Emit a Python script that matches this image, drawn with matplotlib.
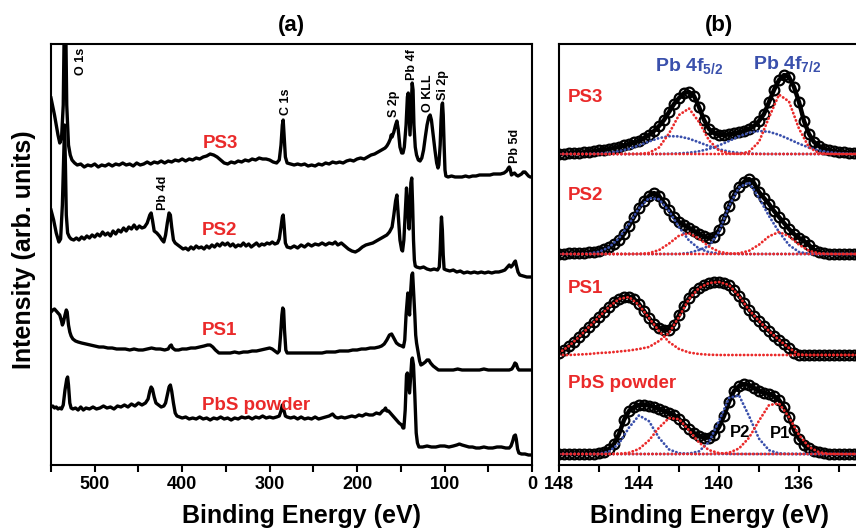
import numpy as np
import matplotlib.pyplot as plt

plt.rcParams['font.family'] = ['Liberation Sans', 'DejaVu Sans']
plt.rcParams['font.weight'] = 'bold'
plt.rcParams['mathtext.fontset'] = 'custom'
plt.rcParams['mathtext.rm'] = 'Liberation Sans:bold'
plt.rcParams['mathtext.it'] = 'Liberation Sans:bold'
plt.rcParams['mathtext.bf'] = 'Liberation Sans:bold'

RED = '#ea2a2a'
BLUE = '#3a50ac'

# ---------- (a) survey spectra: (binding energy eV, intensity arb.)
ps3 = np.array([
    (550, 367), (546, 350), (542, 330), (540, 322), (538, 326), (536, 360), (535, 430), (534, 480),
    (533, 430), (532, 360), (530, 320), (528, 310), (526, 305), (523, 302), (520, 300), (516, 301),
    (512, 298), (508, 300), (504, 299), (500, 301), (496, 298), (492, 300), (488, 299), (484, 301),
    (480, 299), (476, 301), (472, 300), (468, 302), (464, 300), (460, 301), (456, 299), (452, 302),
    (448, 300), (444, 301), (440, 303), (436, 301), (432, 303), (428, 302), (424, 304), (420, 302),
    (416, 304), (412, 303), (408, 305), (404, 304), (400, 306), (396, 304), (392, 306), (388, 305),
    (384, 307), (380, 306), (376, 308), (372, 309), (368, 311), (364, 310), (360, 308), (356, 305),
    (352, 302), (348, 301), (344, 303), (340, 302), (336, 304), (332, 303), (328, 305), (324, 304),
    (320, 306), (316, 305), (312, 307), (308, 306), (304, 306), (300, 305), (296, 303), (292, 302),
    (289, 305), (287, 320), (285.5, 340), (284.5, 345), (283.5, 330), (282, 308), (280, 302),
    (276, 301), (272, 300), (268, 301), (264, 300), (260, 301), (256, 299), (252, 300), (248, 299),
    (244, 301), (240, 300), (236, 302), (232, 301), (228, 303), (224, 302), (220, 303), (216, 302),
    (212, 304), (208, 305), (204, 304), (200, 306), (196, 307), (192, 306), (188, 308), (184, 310),
    (180, 311), (176, 313), (172, 315), (168, 317), (166, 319), (164, 322), (162, 326), (161, 330),
    (160, 328), (158, 333), (156, 340), (154.5, 344), (153, 336), (151, 318), (149, 312),
    (147.5, 312), (146, 318), (144, 340), (142.5, 368), (141.5, 372), (140.5, 350), (139.5, 330),
    (138, 360), (137, 382), (136, 375), (135, 340), (133.5, 318), (132, 310), (130, 305), (128, 304),
    (126, 307), (124, 315), (122, 328), (120, 340), (118, 348), (116.5, 350), (115, 345), (113, 330),
    (111, 315), (109, 302), (107.5, 297), (106.5, 300), (105, 320), (104, 345), (103, 360),
    (102.3, 362), (101.5, 350), (100.5, 320), (99.5, 295), (98.5, 289), (96, 288), (92, 289),
    (88, 288), (84, 288), (80, 288), (76, 289), (72, 288), (68, 289), (64, 289), (60, 290), (56, 290),
    (52, 290), (48, 290), (44, 291), (40, 291), (36, 291), (32, 292), (29, 294), (27, 297), (26, 298),
    (25, 296), (23.5, 290), (22, 291), (20, 292), (18, 290), (16, 289), (14, 290), (12, 291),
    (10, 293), (8, 293), (6, 291), (4, 289), (2, 288), (0, 288)])

ps2 = np.array([
    (550, 255), (547, 245), (544, 232), (541, 223), (539, 226), (537, 260), (535.5, 310), (534.5, 340),
    (533.5, 300), (532.5, 250), (531, 232), (529, 228), (527, 226), (524, 225), (521, 227), (518, 225),
    (515, 228), (512, 226), (509, 229), (506, 227), (503, 230), (500, 228), (497, 231), (494, 229),
    (491, 233), (488, 230), (485, 232), (482, 229), (479, 234), (476, 231), (473, 235), (470, 233),
    (467, 237), (464, 234), (461, 238), (458, 236), (455, 240), (452, 236), (449, 239), (446, 237),
    (443, 238), (440, 242), (437, 250), (435.5, 252), (434, 245), (432, 234), (429, 232), (426, 229),
    (423, 225), (421, 223), (419, 230), (417, 242), (415, 252), (413.5, 250), (412, 238), (410, 225),
    (408, 222), (405, 220), (402, 218), (399, 216), (396, 217), (393, 215), (390, 218), (387, 216),
    (384, 219), (381, 217), (378, 218), (375, 216), (372, 219), (369, 217), (366, 220), (363, 218),
    (360, 221), (357, 219), (354, 222), (351, 220), (348, 222), (345, 219), (342, 221), (339, 218),
    (336, 220), (333, 219), (330, 222), (327, 219), (324, 221), (321, 218), (318, 220), (315, 222),
    (312, 219), (309, 221), (306, 220), (303, 222), (300, 221), (297, 223), (294, 221), (291, 222),
    (289, 226), (287, 238), (285.5, 248), (284.5, 250), (283.5, 240), (282, 222), (280, 218),
    (276, 217), (272, 219), (268, 217), (264, 220), (260, 218), (256, 221), (252, 219), (248, 221),
    (244, 220), (240, 222), (236, 220), (232, 222), (228, 221), (225, 223), (222, 220), (218, 222),
    (214, 219), (210, 216), (206, 214), (202, 213), (198, 215), (194, 218), (190, 220), (186, 221),
    (182, 222), (178, 224), (174, 226), (170, 228), (166, 230), (163, 233), (160, 238), (158, 250),
    (156, 264), (154.5, 270), (153, 250), (151, 225), (149, 215), (148, 214), (146.5, 225), (145, 250),
    (143.5, 277), (142, 258), (141, 240), (140.5, 236), (139.5, 260), (138.5, 282), (137.5, 287),
    (136.5, 260), (135.5, 225), (134.5, 205), (133.5, 199), (132, 198), (128, 197), (124, 198),
    (120, 196), (116, 195), (112, 196), (108, 195), (106, 198), (105, 215), (104, 240), (103.5, 248),
    (102.5, 235), (101.5, 210), (100.5, 196), (98, 195), (94, 194), (90, 195), (86, 193), (82, 194),
    (78, 192), (74, 193), (70, 192), (66, 193), (62, 192), (58, 193), (54, 192), (50, 193), (46, 192),
    (42, 193), (38, 193), (34, 194), (31, 195), (28, 198), (26, 200), (24, 198), (22, 200), (20, 203),
    (19, 204), (18, 200), (16, 193), (14, 190), (10, 189), (6, 188), (2, 188), (0, 188)])

ps1 = np.array([
    (550, 153), (548, 155), (546, 156), (544, 154), (542, 152), (540, 150), (538, 144), (537, 140),
    (536, 142), (534, 150), (532.5, 155), (531.5, 153), (530, 140), (528.5, 133), (527, 129),
    (525, 126), (522, 124), (519, 123), (515, 122), (510, 121), (505, 120), (500, 119), (495, 118),
    (490, 118), (485, 117), (480, 117), (475, 116), (470, 116), (465, 116), (460, 115), (455, 116),
    (450, 115), (445, 115), (440, 116), (435, 117), (430, 116), (425, 116), (420, 115), (416, 116),
    (414, 119), (412.5, 120), (411, 117), (408, 115), (404, 115), (400, 116), (395, 116), (390, 117),
    (385, 117), (380, 118), (375, 119), (371, 120), (368, 120), (365, 118), (362, 115), (358, 112),
    (354, 112), (350, 112), (345, 112), (340, 113), (335, 112), (330, 113), (325, 113), (320, 114),
    (315, 114), (310, 115), (305, 116), (300, 117), (297, 116), (294, 114), (291, 112), (289, 114),
    (287.5, 130), (286, 150), (285, 157), (284, 155), (283, 135), (281.5, 115), (280, 112), (276, 112),
    (270, 112), (265, 112), (260, 112), (255, 112), (250, 112), (245, 112), (240, 112), (235, 113),
    (230, 113), (225, 113), (220, 114), (215, 114), (210, 114), (205, 115), (200, 115), (195, 116),
    (190, 116), (185, 117), (180, 117), (175, 118), (172, 119), (169, 121), (166, 125), (163, 130),
    (160.5, 131), (158, 127), (155, 122), (152, 120), (149, 119), (147, 118), (145.5, 125), (144, 150),
    (142, 172), (141, 160), (140, 150), (139, 170), (137.5, 190), (136.5, 192), (135.5, 175),
    (134, 150), (133, 130), (132, 122), (130, 112), (128.5, 104), (127, 100), (125, 101), (122, 103),
    (120, 105), (118, 105), (116, 102), (113, 99), (110, 97), (107, 95), (104, 95), (100, 95), (95, 95),
    (90, 95), (85, 96), (80, 95), (75, 95), (70, 95), (65, 95), (60, 95), (55, 96), (50, 95), (45, 95),
    (40, 95), (35, 95), (30, 95), (26, 95), (23, 96), (21, 99), (19.5, 102), (18, 101), (16.5, 97),
    (15, 95), (12, 95), (8, 95), (4, 95), (0, 95)])

pbs = np.array([
    (550, 58), (548, 59), (546, 57), (544, 58), (542, 56), (540, 57), (538, 56), (536, 60), (534, 75),
    (532, 86), (531, 88), (530, 80), (528.5, 62), (527, 57), (525, 56), (522, 57), (519, 55), (516, 58),
    (513, 55), (510, 57), (506, 56), (502, 58), (498, 56), (494, 57), (490, 59), (486, 57), (482, 58),
    (478, 56), (474, 59), (470, 58), (466, 60), (462, 58), (458, 61), (454, 59), (450, 62), (446, 60),
    (442, 62), (439, 66), (437, 74), (435.5, 78), (434, 76), (432, 68), (430, 62), (427, 60), (424, 58),
    (421, 59), (419, 62), (417, 70), (415, 78), (413.5, 80), (412, 74), (410, 62), (408, 52), (406, 49),
    (403, 48), (400, 47), (396, 48), (392, 46), (388, 47), (384, 46), (380, 48), (376, 46), (372, 47),
    (368, 45), (364, 47), (360, 46), (356, 48), (352, 46), (348, 47), (344, 45), (340, 47), (336, 46),
    (332, 48), (328, 47), (324, 48), (320, 46), (316, 48), (312, 47), (308, 49), (304, 47), (300, 48),
    (296, 47), (292, 48), (289, 49), (287, 54), (285.5, 60), (284.5, 60), (283.5, 54), (282, 49),
    (280, 48), (276, 47), (272, 48), (268, 46), (264, 48), (260, 46), (256, 47), (252, 46), (248, 48),
    (244, 46), (240, 47), (236, 48), (232, 49), (228, 51), (225, 48), (222, 47), (218, 48), (214, 47),
    (210, 48), (206, 49), (202, 48), (198, 50), (194, 49), (190, 51), (186, 50), (182, 50), (178, 52),
    (174, 51), (171, 54), (169, 55), (167.5, 57), (166, 54), (164, 54), (162, 52), (160, 50), (158, 48),
    (155, 45), (152, 42), (149, 40), (147.5, 37), (146.5, 37), (145, 55), (143.5, 90), (142.5, 92),
    (141, 80), (140, 72), (139, 85), (137.5, 105), (136.8, 107), (135.5, 100), (134, 70), (133, 45),
    (132.4, 32), (131, 22), (129.3, 18), (125, 18), (120, 19), (115, 18), (110, 18), (105, 19),
    (100, 19), (95, 18), (90, 19), (86, 20), (83, 21), (80, 20), (76, 19), (72, 18), (68, 18), (64, 17),
    (60, 17), (55, 18), (50, 17), (45, 17), (40, 18), (35, 18), (30, 17), (26, 17), (24, 19), (22, 24),
    (20.5, 29), (19, 30), (18, 26), (16.5, 16), (15, 12), (12, 11), (8, 11), (4, 10), (2, 10), (0, 10)])

survey_names = ['PS3', 'PS2', 'PS1', 'PbS powder']
survey_label_e = [376, 378, 377.5, 377.5]
survey_label_i = [317, 230, 130, 55]

peak_names = ['O 1s', 'Pb 4d', 'C 1s', 'S 2p', 'Pb 4f', 'O KLL', 'Si 2p', 'Pb 5d']
peak_e = [515.6, 422.3, 281.2, 157.3, 136.9, 118.8, 101.6, 19.5]
peak_i = [390, 255, 350, 348, 385, 353, 365, 302]

# ---------- (b) Pb 4f high resolution, heights above each baseline
hr_e = np.arange(148.0, 132.99, -0.25)   # measured points
fit_e = np.arange(148.0, 132.99, -0.5)   # fitted components

hr_ps3 = [0, 0, 0.5, 1, 1, 1.5, 2, 3, 3.5, 4, 5, 6, 7, 8.5, 10, 11.5, 13, 16, 19, 23, 28, 34, 42, 50,
          56, 61, 62, 58, 47, 34, 25, 21, 19, 19, 19.5, 20.5, 21.5, 23, 25, 28, 33, 40, 52, 64, 74,
          79, 77, 67, 52, 33, 20, 12, 8, 5, 3.5, 2.5, 2, 1.5, 1, 1, 1]
hr_ps2 = [0, 0, 0.5, 0.5, 1, 1, 1.5, 2, 3, 4.5, 6.5, 9.5, 14, 20, 28, 37, 46, 53, 58, 61, 58, 51,
          44, 37, 32, 29, 26, 23, 20, 17.5, 16, 17, 24, 35, 48, 59, 67, 72, 75, 71, 62, 56, 50, 43,
          37, 31, 25, 20, 16, 13, 9, 4, 1.5, 0.5, 0, 0, -0.5, -0.5, -0.5, -0.5, -0.5]
hr_ps1 = [2, 5, 9, 13, 18, 23, 28, 33, 38, 43, 48, 53, 56, 58, 58.5, 56, 51, 44, 37, 31, 27, 25, 25,
          30, 40, 49, 57, 63, 67, 70, 72, 73, 73, 72, 70, 65, 59, 52, 45, 39, 34, 29, 24, 19, 15, 11,
          7, 2, 0, 0, 0, 0, 0, 0, 0, 0, 0, 0, 0, 0, 0]
hr_pbs = [0, 0, 0, 0, 0, 0, 0.5, 0.5, 1, 2, 5, 10, 20, 34, 43, 47, 49, 49, 48.5, 47, 45, 43, 41, 39,
          35, 30, 25, 21, 18, 16, 16.5, 19, 27, 38, 52, 63, 68, 70, 69, 66, 63, 61, 60, 58, 54, 47, 37,
          24, 15, 9, 6, 3.5, 2, 1, 0.5, 0, 0, 0, 0, 0, 0]

ps3_red = [0, 0, 0, 0, 0, 0, 0, 0, 0.1, 1.2, 6.5, 20.5, 39, 45.5, 32, 13.7, 3.5, 0.6,
           0, 0, 0, 0, 0, 0, 0, 0, 0, 0, 0, 0, 0]
ps3_red2 = [0, 0, 0, 0, 0, 0, 0, 0, 0, 0, 0, 0, 0, 0, 0, 0, 0, 0, 0.2, 2.2, 12.2, 36.5, 59.4,
            52.5, 25.3, 6.6, 0.9, 0.1, 0, 0, 0]
ps3_blue = [0, 0, 0.05, 0.2, 0.55, 1.3, 2.8, 5.2, 8.6, 12.5, 15.9, 17.8, 17.6, 15.3, 11.7, 7.9, 4.7,
            2.4, 1.1, 0.45, 0.15, 0, 0, 0, 0, 0, 0, 0, 0, 0, 0]
ps3_blue2 = [0, 0, 0, 0, 0, 0, 0, 0, 0, 0, 0, 0.2, 0.55, 1.3, 2.7, 5.1, 8.6, 13, 17.6, 21.2, 23, 22.2,
             19.2, 14.9, 10.3, 6.4, 3.5, 1.8, 0.8, 0.3, 0.1]

ps2_blue = [0, 0, 0.02, 0.6, 2.2, 6.6, 15.8, 30, 45.8, 56, 54.8, 42.9, 26.9, 13.5, 5.4, 1.8, 0.45, 0.1,
            0, 0, 0, 0, 0, 0, 0, 0, 0, 0, 0, 0, 0]
ps2_blue2 = [0, 0, 0, 0, 0, 0, 0, 0, 0, 0, 0, 0, 0, 1.1, 4, 8, 22, 48, 66.5, 71.6, 56, 38, 22, 9, 2,
             0.3, 0, 0, 0, 0, 0]
ps2_red = [0, 0, 0, 0, 0, 0, 0, 0, 0.1, 0.9, 3.9, 10.4, 18.3, 20.8, 15.4, 7.4, 2.3, 0.5,
           0, 0, 0, 0, 0, 0, 0, 0, 0, 0, 0, 0, 0]
ps2_red2 = [0, 0, 0, 0, 0, 0, 0, 0, 0, 0, 0, 0, 0, 0, 0, 0, 0, 0.1, 0.7, 3.2, 9.3, 17.7, 22, 17.7,
            9.3, 3.2, 0.7, 0.1, 0, 0, 0]

ps1_red = [2, 9, 18, 28, 38, 48, 56, 58, 50, 37, 24, 13, 6, 2.5, 1, 0.3,
           0, 0, 0, 0, 0, 0, 0, 0, 0, 0, 0, 0, 0, 0, 0]
ps1_red2 = [0, 0, 0.5, 1, 2, 2.5, 3.5, 4.5, 6, 8, 14, 22, 38, 56, 67, 72, 73, 70, 59, 45, 34, 24,
            15, 7, 0.5, 0, 0, 0, 0, 0, 0]

pbs_blue = [0, 0, 0, 0, 0.3, 2.4, 10.5, 26.4, 38.6, 32.8, 16.2, 4.6, 0.8, 0.1,
            0, 0, 0, 0, 0, 0, 0, 0, 0, 0, 0, 0, 0, 0, 0, 0, 0]
pbs_red = [0, 0, 0, 0, 0, 0, 0.2, 1.3, 5, 13.6, 26.3, 36, 34.8, 23.7, 11.5, 3.9, 0.9, 0.2,
           0, 0, 0, 0, 0, 0, 0, 0, 0, 0, 0, 0, 0]
pbs_blue2 = [0, 0, 0, 0, 0, 0, 0, 0, 0, 0, 0, 0, 0, 0.4, 2.7, 12, 33, 56, 58.7, 38, 15.3, 3.8, 0.6,
             0.05, 0, 0, 0, 0, 0, 0, 0]
pbs_red2 = [0, 0, 0, 0, 0, 0, 0, 0, 0, 0, 0, 0, 0, 0, 0, 0, 0.2, 1.3, 5.5, 16.2, 33.3, 48.9, 50.6,
            36.9, 19.1, 7, 1.8, 0.2, 0, 0, 0]

hr_names = ['PS3', 'PS2', 'PS1', 'PbS powder']
hr_offsets = [311, 211, 110, 11]
hr_data = [hr_ps3, hr_ps2, hr_ps1, hr_pbs]
hr_reds = [[ps3_red, ps3_red2], [ps2_red, ps2_red2], [ps1_red, ps1_red2], [pbs_red, pbs_red2]]
hr_blues = [[ps3_blue, ps3_blue2], [ps2_blue, ps2_blue2], [], [pbs_blue, pbs_blue2]]
hr_label_i = [363, 265, 172, 77]

W, H = 856, 529
fig = plt.figure(figsize=(W / 100, H / 100), dpi=100)
ax1 = fig.add_axes([51 / W, 64 / H, 481 / W, 421 / H])
ax2 = fig.add_axes([559 / W, 64 / H, 320 / W, 421 / H])

# panel (a)
for spec in [ps3, ps2, ps1, pbs]:
    ax1.plot(spec[:, 0], spec[:, 1], color='black', lw=2.4, solid_joinstyle='round')
for name, e, i in zip(survey_names, survey_label_e, survey_label_i):
    ax1.text(e, i, name, color=RED, fontsize=13.5, fontweight='bold', ha='left', va='baseline')
for name, e, i in zip(peak_names, peak_e, peak_i):
    ax1.text(e, i, name, fontsize=9, fontweight='bold', rotation=90, ha='center', va='bottom')
ax1.set_xlim(550, 0)
ax1.set_ylim(0, 421)
ax1.set_xticks([500, 400, 300, 200, 100, 0])
ax1.set_xticks([550, 450, 350, 250, 150, 50], minor=True)
ax1.set_yticks([])

# panel (b)
dots = dict(lw=2.0, linestyle=(0, (0.1, 1.3)), dash_capstyle='round')
for data, off, reds, blues in zip(hr_data, hr_offsets, hr_reds, hr_blues):
    y = np.array(data) + off
    ax2.plot(hr_e, y, color='black', lw=3.2, solid_joinstyle='round')
    ax2.plot(hr_e, y, 'o', mfc='none', mec='black', ms=7, mew=1.6)
    for comp in blues:
        ax2.plot(fit_e, np.array(comp) + off, color=BLUE, **dots)
    for comp in reds:
        ax2.plot(fit_e, np.array(comp) + off, color=RED, **dots)
for name, i in zip(hr_names, hr_label_i):
    ax2.text(147.55, i, name, color=RED, fontsize=13.5, fontweight='bold', ha='left', va='baseline')
ax2.text(143.2, 394, 'Pb 4f$_{5/2}$', color=BLUE, fontsize=14, fontweight='bold', va='baseline')
ax2.text(138.3, 396, 'Pb 4f$_{7/2}$', color=BLUE, fontsize=14, fontweight='bold', va='baseline')
ax2.text(139.45, 28, 'P2', fontsize=12, fontweight='bold', va='baseline')
ax2.text(137.45, 27, 'P1', fontsize=12, fontweight='bold', va='baseline')
ax2.set_xlim(148, 132)
ax2.set_ylim(0, 421)
ax2.set_xticks([148, 144, 140, 136])
ax2.set_xticks([146, 142, 138, 134], minor=True)
ax2.set_yticks([])
ax2.spines['right'].set_visible(False)

for ax in (ax1, ax2):
    for s in ax.spines.values():
        s.set_linewidth(1.5)
    ax.tick_params(which='both', direction='out', length=5, width=1.5, labelsize=13, pad=3)
    for lab in ax.get_xticklabels():
        lab.set_fontweight('bold')

fig.text(291 / W, 1 - 26 / H, '(a)', fontsize=16, fontweight='bold', ha='center', va='center')
fig.text(719 / W, 1 - 26 / H, '(b)', fontsize=16, fontweight='bold', ha='center', va='center')
fig.text(301 / W, 6 / H, 'Binding Energy (eV)', fontsize=18, fontweight='bold', ha='center', va='baseline')
fig.text(710 / W, 6 / H, 'Binding Energy (eV)', fontsize=18, fontweight='bold', ha='center', va='baseline')
fig.text(24 / W, 0.528, 'Intensity (arb. units)', fontsize=18, fontweight='bold', rotation=90,
         ha='center', va='center')

fig.savefig('out.png', dpi=100)
